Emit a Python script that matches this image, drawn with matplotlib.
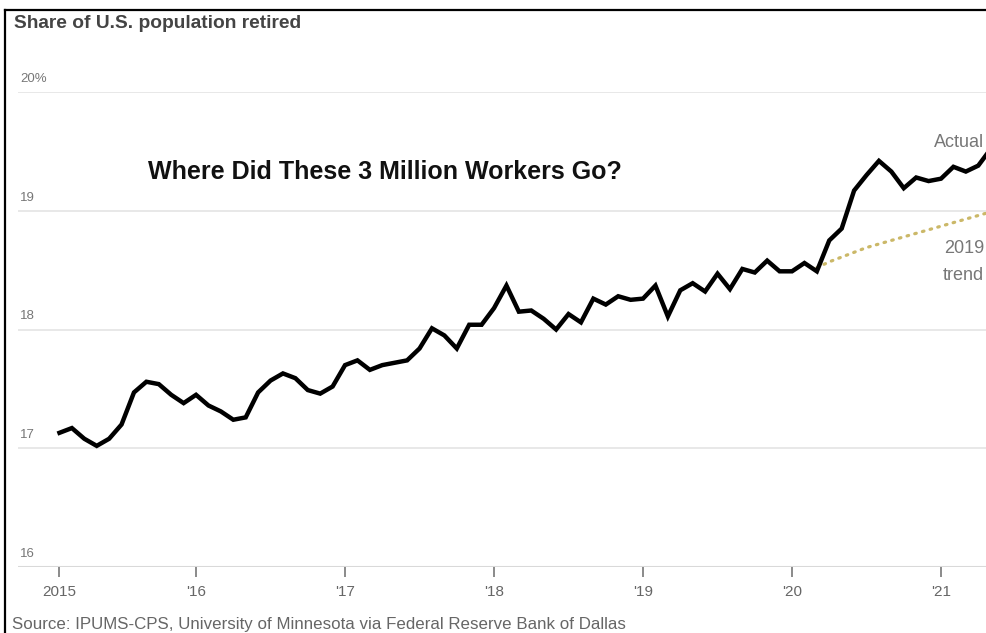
import matplotlib
matplotlib.use("Agg")
import matplotlib.pyplot as plt
import numpy as np

# share of US population retired, monthly Feb 2015 - May 2021
start = 2015 + 1 / 12
actual = [17.13, 17.17, 17.08, 17.02, 17.08, 17.20, 17.47, 17.56, 17.54, 17.45, 17.38,   # 2015
          17.45, 17.36, 17.31, 17.24, 17.26, 17.47, 17.57, 17.63, 17.59, 17.49, 17.46, 17.52,  # 2016
          17.70, 17.74, 17.66, 17.70, 17.72, 17.74, 17.84, 18.01, 17.95, 17.84, 18.04, 18.04,  # 2017
          18.18, 18.37, 18.15, 18.16, 18.09, 18.00, 18.13, 18.06, 18.26, 18.21, 18.28, 18.25,  # 2018
          18.26, 18.37, 18.11, 18.33, 18.39, 18.32, 18.47, 18.34, 18.51, 18.48, 18.58, 18.49,  # 2019
          18.49, 18.56, 18.49, 18.75, 18.85, 19.17, 19.30, 19.42, 19.33, 19.19, 19.28, 19.25,  # 2020
          19.27, 19.37, 19.33, 19.38, 19.52]                                                  # 2021
# 2019 trend, Mar 2020 - May 2021
trend_start = 2020 + 2 / 12
trend = [18.52, 18.57, 18.61, 18.65, 18.69, 18.72, 18.75, 18.78, 18.81, 18.84,
         18.87, 18.90, 18.93, 18.96, 18.99]

xticks = [2015 + 1 / 12, 2016, 2017, 2018, 2019, 2020, 2021]
xlabels = ["2015", "'16", "'17", "'18", "'19", "'20", "'21"]
yticks = [16, 17, 18, 19, 20]
ylabels = ["16", "17", "18", "19", "20%"]

x_act = start + np.arange(len(actual)) / 12
x_tr = trend_start + np.arange(len(trend)) / 12

plt.rcParams['font.family'] = ['Liberation Sans', 'DejaVu Sans']

fig = plt.figure(figsize=(9.86, 6.33), dpi=100)
ax = fig.add_axes([18 / 986, 66 / 633, 968 / 986, 475 / 633])

ax.plot(x_tr, trend, color="#cbb868", lw=2.3, ls=(0, (0.5, 2.0)), dash_capstyle="round", zorder=2)
ax.plot(x_act, actual, color="black", lw=3.2, solid_joinstyle="miter", zorder=3)

ax.set_xlim(2014.805, 2021.302)
ax.set_ylim(16, 20)

for y in yticks[1:]:
    ax.axhline(y, color="#e6e6e6", lw=1.3, zorder=1)
ax.axhline(16, color="#d9d9d9", lw=1.5, zorder=1)

for y, lab in zip(yticks, ylabels):
    ax.text(0.002, y + 0.06, lab, transform=ax.get_yaxis_transform(), fontsize=9.5,
            color="#777777", ha="left", va="bottom")

ax.set_yticks([])
ax.set_xticks(xticks)
ax.set_xticklabels(xlabels, fontsize=11, color="#666666")
ax.tick_params(axis="x", length=7, width=1.2, color="#777777", pad=6)
for s in ax.spines.values():
    s.set_visible(False)

ax.text(2021.29, 19.5, "Actual", ha="right", va="bottom", fontsize=13, color="#777777")
ax.text(2021.29, 18.75, "2019\ntrend", ha="right", va="top", fontsize=13, color="#777777",
        linespacing=1.75)
ax.text(2015.678, 19.33, "Where Did These 3 Million Workers Go?", fontsize=18, fontweight="bold",
        color="#111111", va="center")

fig.text(14 / 986, 1 - 23 / 633, "Share of U.S. population retired", fontsize=13.8,
         fontweight="bold", color="#444444", va="center")
fig.text(12 / 986, 1 - 625 / 633, "Source: IPUMS-CPS, University of Minnesota via Federal Reserve Bank of Dallas",
         fontsize=12.2, color="#666666", va="center")

# frame around left/top edges
fig.add_artist(plt.Line2D([4.5 / 986, 4.5 / 986], [0, 1 - 10 / 633], color="black", lw=1.6,
                          transform=fig.transFigure))
fig.add_artist(plt.Line2D([4.5 / 986, 1], [1 - 10 / 633, 1 - 10 / 633], color="black", lw=1.6,
                          transform=fig.transFigure))

fig.savefig("out.png", dpi=100, facecolor="white")
